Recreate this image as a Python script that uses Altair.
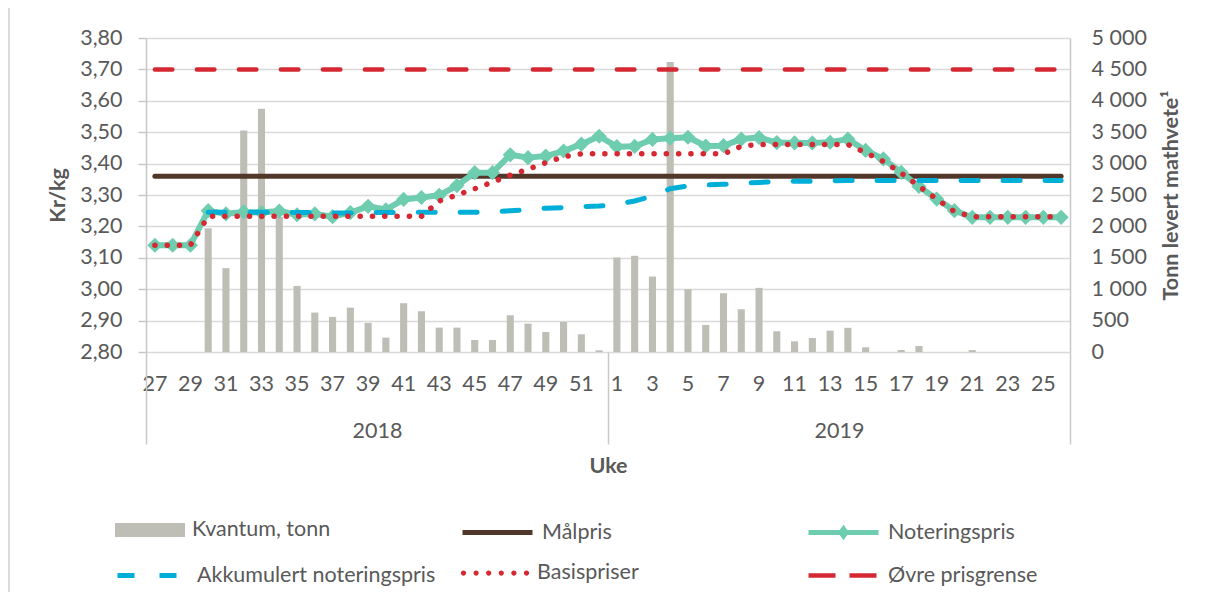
import altair as alt
import pandas as pd

# ---------------- data ----------------
weeks_2018 = list(range(27, 53))
weeks_2019 = list(range(1, 27))
week_keys = [f"2018-{w:02d}" for w in weeks_2018] + [f"2019-{w:02d}" for w in weeks_2019]
year_labels = ["2018", "2019"]

kvantum = [
    0, 0, 0, 1970, 1335, 3527, 3872, 2150, 1053, 628, 559, 707, 463,
    229, 777, 649, 388, 388, 191, 191, 585, 452, 319, 479, 282, 27,
    1505, 1532, 1202, 4617, 1000, 431, 936, 681, 1021, 330, 170, 223, 340,
    385, 75, 0, 32, 96, 0, 0, 30, 0, 0, 0, 0, 0,
]
noteringspris = [
    3.140, 3.140, 3.140, 3.250, 3.240, 3.246, 3.244, 3.249, 3.237, 3.240, 3.231, 3.244, 3.264,
    3.253, 3.286, 3.292, 3.299, 3.330, 3.371, 3.371, 3.428, 3.419, 3.424, 3.440, 3.462, 3.487,
    3.454, 3.455, 3.477, 3.481, 3.484, 3.456, 3.457, 3.478, 3.483, 3.467, 3.466, 3.466, 3.468,
    3.478, 3.442, 3.415, 3.372, 3.327, 3.287, 3.250, 3.229, 3.229, 3.229, 3.229, 3.229, 3.229,
]
basispriser = [
    3.140, 3.140, 3.140, 3.232, 3.232, 3.232, 3.232, 3.232, 3.232, 3.232, 3.232, 3.232, 3.232,
    3.232, 3.232, 3.232, 3.281, 3.300, 3.320, 3.341, 3.363, 3.382, 3.403, 3.422, 3.431, 3.431,
    3.431, 3.431, 3.431, 3.431, 3.431, 3.431, 3.431, 3.455, 3.461, 3.461, 3.461, 3.461, 3.461,
    3.461, 3.435, 3.407, 3.370, 3.328, 3.287, 3.247, 3.231, 3.231, 3.231, 3.231, 3.231, 3.231,
]
akkumulert = [
    None, None, None, 3.245, 3.245, 3.245, 3.245, 3.245, 3.244, 3.244, 3.243, 3.243, 3.244,
    3.244, 3.244, 3.245, 3.245, 3.245, 3.245, 3.246, 3.250, 3.253, 3.258, 3.260, 3.263, 3.265,
    3.270, 3.281, 3.296, 3.320, 3.329, 3.332, 3.334, 3.337, 3.340, 3.343, 3.344, 3.344, 3.345,
    3.346, 3.346, 3.346, 3.346, 3.346, 3.346, 3.346, 3.346, 3.346, 3.346, 3.346, 3.346, 3.346,
]
maalpris = [3.36] * 52
ovre_prisgrense = [3.70] * 52

left_ticks = [2.8, 2.9, 3.0, 3.1, 3.2, 3.3, 3.4, 3.5, 3.6, 3.7, 3.8]
right_ticks = [0, 500, 1000, 1500, 2000, 2500, 3000, 3500, 4000, 4500, 5000]

# ---------------- styles ----------------
FONT = "Lato"
FS = 21.5
TXT = "#595959"
GRID = "#d9d9d9"
AXIS = "#c8c8c8"
C_BAR = "#bebeb6"
C_MAAL = "#50372a"
C_NOT = "#6ecdaf"
C_AKK = "#00afd7"
C_RED = "#d52832"

W, H = 924, 314

# ---------------- frames ----------------
series = {
    "Målpris": maalpris,
    "Noteringspris": noteringspris,
    "Akkumulert noteringspris": akkumulert,
    "Basispriser": basispriser,
    "Øvre prisgrense": ovre_prisgrense,
}
rows = []
for name, vals in series.items():
    for k, v in zip(week_keys, vals):
        if v is not None:
            rows.append({"key": k, "serie": name, "value": v})
line_df = pd.DataFrame(rows)
bar_df = pd.DataFrame({"key": week_keys, "kvantum": kvantum, "serie": "Kvantum, tonn"})
year_df = pd.DataFrame({"year": year_labels})

WEEK_LABEL = ("toNumber(split(datum.value, '-')[1]) % 2 == 1 ? "
              "'' + toNumber(split(datum.value, '-')[1]) : ''")


def leg(x, y, **kw):
    return alt.Legend(orient="none", legendX=x, legendY=y, title=None,
                      labelFont=FONT, labelFontSize=FS, labelColor=TXT,
                      labelOffset=7, labelLimit=400, symbolSize=4900, **kw)


ROW1, ROW2 = 457, 500
COL1, COL2, COL3 = -31, 314, 660

# ---------------- bars (right axis) ----------------
bars = alt.Chart(bar_df).mark_bar().encode(
    x=alt.X("key:O", sort=week_keys,
            scale=alt.Scale(type="band", paddingInner=0.6, paddingOuter=0.3),
            axis=alt.Axis(orient="bottom", title=None, labelExpr=WEEK_LABEL, labelAngle=0,
                          labelOverlap=False, ticks=False, domain=False, labelPadding=21,
                          labelFont=FONT, labelFontSize=FS, labelColor=TXT)),
    y=alt.Y("kvantum:Q", scale=alt.Scale(domain=[0, 5000], nice=False),
            axis=alt.Axis(orient="right", values=right_ticks,
                          labelExpr="replace(format(datum.value, ','), ',', ' ')",
                          title="Tonn levert mathvete¹", titleAngle=270, titleBaseline="top",
                          titlePadding=14,
                          titleFont=FONT, titleFontSize=FS, titleFontWeight="bold", titleColor=TXT,
                          labelFont=FONT, labelFontSize=FS, labelColor=TXT, labelPadding=21,
                          grid=False, ticks=False, domain=True, domainColor=AXIS, domainWidth=1.5)),
    fill=alt.Fill("serie:N", scale=alt.Scale(domain=["Kvantum, tonn"], range=[C_BAR]),
                  legend=leg(COL1, ROW1, symbolType="M-1,-0.2L1,-0.2L1,0.2L-1,0.2Z",
                             symbolStrokeWidth=0)),
)

# ---------------- lines (left axis) ----------------
X_L = alt.X("key:O", sort=week_keys, scale=alt.Scale(type="point", padding=0.5), axis=None)
Y_L = alt.Y("value:Q", scale=alt.Scale(domain=[2.8, 3.8], nice=False, zero=False),
            axis=alt.Axis(orient="left", values=left_ticks,
                          labelExpr="replace(format(datum.value, '.2f'), '.', ',')",
                          title="Kr/kg", titlePadding=10, titleFont=FONT, titleFontSize=FS,
                          titleFontWeight="bold", titleColor=TXT,
                          labelFont=FONT, labelFontSize=FS, labelColor=TXT, labelPadding=16,
                          grid=True, gridColor=GRID, gridWidth=1.5,
                          ticks=True, tickSize=8, tickColor=AXIS, tickWidth=1.5,
                          domain=True, domainColor=AXIS, domainWidth=1.5))

base = alt.Chart(line_df)

maal = base.transform_filter(alt.datum.serie == "Målpris").mark_line(
    strokeWidth=5, strokeCap="round").encode(
    x=X_L, y=Y_L,
    color=alt.Color("serie:N", scale=alt.Scale(domain=["Målpris"], range=[C_MAAL]),
                    legend=leg(COL2, ROW1, symbolType="stroke", symbolStrokeWidth=5)),
)

noter_line = base.transform_filter(alt.datum.serie == "Noteringspris").mark_line(
    strokeWidth=6, strokeJoin="round").encode(
    x=X_L, y=Y_L,
    stroke=alt.Stroke("serie:N", scale=alt.Scale(domain=["Noteringspris"], range=[C_NOT]),
                      legend=leg(COL3, ROW1,
                                 symbolType="M-1,0L1,0M0,-0.1L0.075,0L0,0.1L-0.075,0Z",
                                 symbolStrokeWidth=5, symbolFillColor=C_NOT)),
)
noter_pts = base.transform_filter(alt.datum.serie == "Noteringspris").mark_point(
    shape="diamond", filled=True, size=230, color=C_NOT, opacity=1).encode(x=X_L, y=Y_L)

akk = base.transform_filter(alt.datum.serie == "Akkumulert noteringspris").mark_line(
    color=C_AKK, strokeWidth=5, strokeCap="round").encode(
    x=X_L, y=Y_L,
    strokeDash=alt.StrokeDash("serie:N",
                              scale=alt.Scale(domain=["Akkumulert noteringspris"], range=[[17, 25]]),
                              legend=leg(COL1, ROW2, symbolType="stroke", symbolStrokeWidth=5,
                                         symbolStrokeColor=C_AKK)),
)

dots_path = "".join(
    f"M{cx - 0.075:.3f},0a0.075,0.075 0 1,0 0.15,0a0.075,0.075 0 1,0 -0.15,0"
    for cx in [-0.9, -0.54, -0.18, 0.18, 0.54, 0.9]
)
basis = base.transform_filter(alt.datum.serie == "Basispriser").mark_line(
    color=C_RED, strokeWidth=5.5, strokeCap="round", strokeDash=[0.1, 12.2]).encode(
    x=X_L, y=Y_L,
    opacity=alt.Opacity("serie:O", scale=alt.Scale(domain=["Basispriser"], range=[1, 1]),
                        legend=leg(COL2, ROW2, symbolType=dots_path,
                                   symbolFillColor=C_RED, symbolStrokeColor="transparent",
                                   symbolStrokeWidth=0)),
)

ovre = base.transform_filter(alt.datum.serie == "Øvre prisgrense").mark_line(
    color=C_RED, strokeCap="round", strokeDash=[17.5, 24.5]).encode(
    x=X_L, y=Y_L,
    strokeWidth=alt.StrokeWidth("serie:O", scale=alt.Scale(domain=["Øvre prisgrense"], range=[4.5, 4.5]),
                                legend=leg(COL3, ROW2, symbolType="stroke", symbolDash=[27, 14],
                                           symbolStrokeColor=C_RED)),
)

lines = alt.layer(maal, noter_line, noter_pts, akk, basis, ovre)

# ---------------- year grouping axis ----------------
years = alt.Chart(year_df).mark_point(opacity=0).encode(
    x=alt.X("year:O", scale=alt.Scale(type="band", paddingInner=0, paddingOuter=0),
            axis=alt.Axis(orient="bottom", title="Uke", titleFont=FONT, titleFontSize=FS,
                          titleFontWeight="bold", titleColor=TXT, titlePadding=11,
                          tickBand="extent", ticks=True, tickSize=92, tickColor=AXIS, tickWidth=1.5,
                          domain=False, labelAngle=0, labelPadding=-24,
                          labelFont=FONT, labelFontSize=FS, labelColor=TXT)),
)

# thin frame edge on the left of the chart area
frame = alt.Chart(year_df).mark_rule(color=GRID, strokeWidth=1.5).encode(
    x=alt.value(-137), y=alt.value(-30), y2=alt.value(H + 245)
)

chart = alt.layer(bars, lines, years, frame).resolve_scale(
    x="independent", y="independent"
).properties(
    width=W, height=H,
    autosize=alt.AutoSizeParams(type="none"),
    padding={"left": 138, "top": 30, "right": 130, "bottom": 240},
).configure(font=FONT).configure_view(strokeWidth=0)

chart.save("out.html", embed_options={"renderer": "svg", "actions": False})
